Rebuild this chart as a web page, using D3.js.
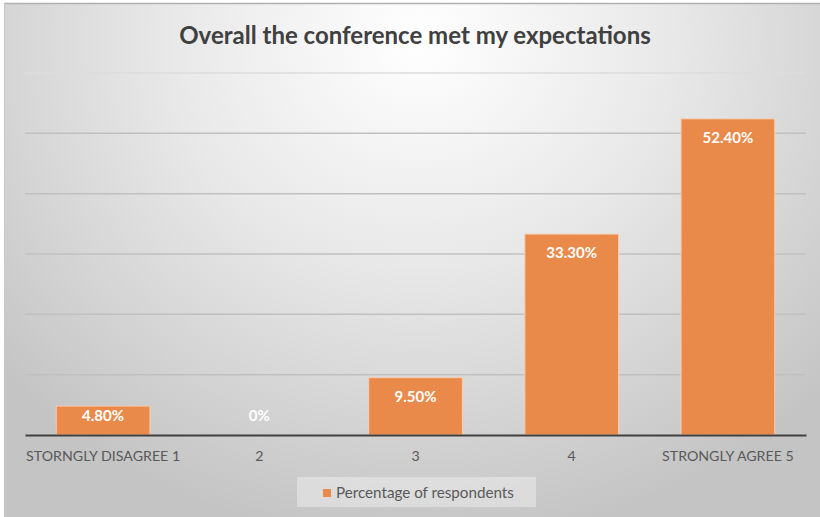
<!DOCTYPE html>
<html><head><meta charset="utf-8">
<script src="https://cdn.jsdelivr.net/npm/d3@7"></script>
<style>html,body{margin:0;padding:0;background:#fff;}svg{display:block;}</style>
</head><body>
<script>
const categories = ["STORNGLY DISAGREE 1", "2", "3", "4", "STRONGLY AGREE 5"];
const values = [4.8, 0, 9.5, 33.3, 52.4];
const valueLabels = ["4.80%", "0%", "9.50%", "33.30%", "52.40%"];
const yTicks = [0, 10, 20, 30, 40, 50, 60];
const title = "Overall the conference met my expectations";
const seriesName = "Percentage of respondents";

const W = 820, H = 517;
const svg = d3.select("body").append("svg").attr("width", W).attr("height", H);
const defs = svg.append("defs");
const rg = defs.append("radialGradient").attr("id", "bg")
  .attr("gradientUnits", "userSpaceOnUse")
  .attr("cx", 420).attr("cy", 40).attr("r", 560)
  .attr("gradientTransform", "translate(420,40) scale(1,0.9) translate(-420,-40)");
rg.append("stop").attr("offset", "0").attr("stop-color", "#ffffff");
rg.append("stop").attr("offset", "0.45").attr("stop-color", "#e8e8e8");
rg.append("stop").attr("offset", "1").attr("stop-color", "#c4c4c4");

svg.append("rect").attr("x", 4).attr("y", 3).attr("width", W - 4).attr("height", H - 3).attr("fill", "url(#bg)");
svg.append("line").attr("x1", 4).attr("x2", W).attr("y1", 3.5).attr("y2", 3.5).attr("stroke", "#b0b0b0").attr("stroke-width", 1.5);
svg.append("line").attr("x1", 4.5).attr("x2", 4.5).attr("y1", 3).attr("y2", H).attr("stroke", "#c8c8c8").attr("stroke-width", 1);

const x = d3.scaleBand().domain(categories).range([25, 806]).paddingInner(0.4).paddingOuter(0.2);
const y = d3.scaleLinear().domain([0, 60]).range([435, 73]);

// gridlines
svg.append("g").selectAll("line").data(yTicks.filter(t => t > 0)).join("line")
  .attr("x1", 25).attr("x2", 806)
  .attr("y1", d => y(d)).attr("y2", d => y(d))
  .attr("stroke", d => d === 60 ? "#dcdcdc" : "#c0c0c0").attr("stroke-width", 1.5);

// bars
svg.append("g").selectAll("rect").data(values).join("rect")
  .attr("x", (d, i) => x(categories[i]))
  .attr("y", d => y(d))
  .attr("width", x.bandwidth())
  .attr("height", d => y(0) - y(d))
  .attr("fill", "#e98a4a")
  .attr("stroke", d => d > 0 ? "#f5cfb2" : "none")
  .attr("stroke-width", 1);

// baseline axis
const xAxis = d3.axisBottom(x).tickSize(0).tickPadding(16);
const gx = svg.append("g").attr("transform", `translate(0,${y(0)})`).call(xAxis);
gx.select(".domain").attr("stroke", "#404040").attr("stroke-width", 2.2);
gx.selectAll("text").attr("font-family", "Lato, 'Open Sans', sans-serif").attr("font-size", 14.2).attr("fill", "#595959");

// data labels
svg.append("g").selectAll("text").data(values).join("text")
  .attr("x", (d, i) => x(categories[i]) + x.bandwidth() / 2)
  .attr("y", d => Math.min(y(d) + 19, y(0) - 19))
  .attr("dy", "0.35em")
  .attr("text-anchor", "middle")
  .attr("font-family", "Lato, 'Open Sans', sans-serif")
  .attr("font-weight", "bold").attr("font-size", 15)
  .attr("fill", "#ffffff")
  .text((d, i) => valueLabels[i]);

// title
svg.append("text").attr("x", 415).attr("y", 44).attr("text-anchor", "middle")
  .attr("font-family", "Lato, 'Open Sans', sans-serif").attr("font-weight", "bold")
  .attr("font-size", 24).attr("fill", "#404040").text(title);

// legend
const lg = svg.append("g");
lg.append("rect").attr("x", 297).attr("y", 477).attr("width", 239).attr("height", 30).attr("fill", "#ffffff").attr("fill-opacity", 0.35);
lg.append("rect").attr("x", 323).attr("y", 489).attr("width", 8).attr("height", 8).attr("fill", "#e98a4a");
lg.append("text").attr("x", 336).attr("y", 493).attr("dy", "0.35em")
  .attr("font-family", "Lato, 'Open Sans', sans-serif").attr("font-size", 15.2).attr("fill", "#595959").text(seriesName);
</script>
</body></html>
